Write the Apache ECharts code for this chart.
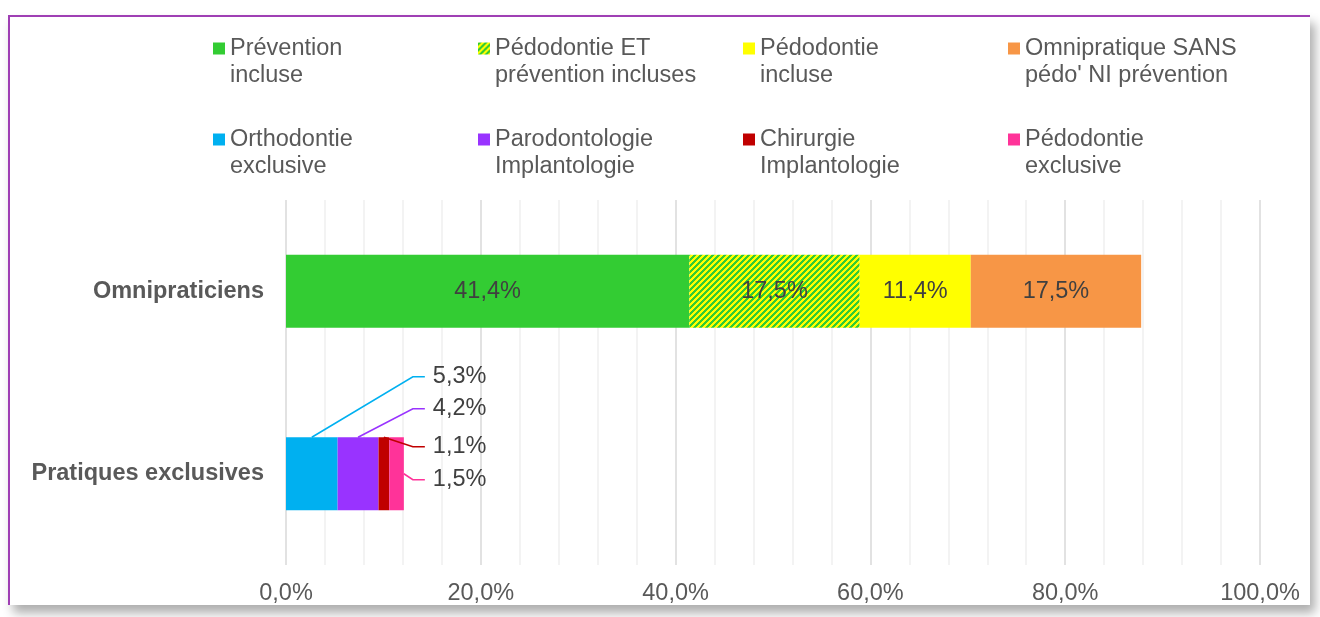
<!DOCTYPE html>
<html>
<head>
<meta charset="utf-8">
<script src="https://cdn.jsdelivr.net/npm/echarts@6/dist/echarts.min.js"></script>
<style>
  html, body { margin: 0; padding: 0; background: #ffffff; overflow: hidden; }
  #frame {
    position: absolute; left: 8px; top: 15px; width: 1300px; height: 588px;
    background: #ffffff;
    border-left: 2px solid #9F3FB4; border-top: 2px solid #9F3FB4;
    box-shadow: 5px 8px 10px rgba(0, 0, 0, 0.32);
  }
  #chart { position: absolute; left: 0; top: 0; width: 1320px; height: 617px; }
</style>
</head>
<body>
<div id="frame"></div>
<div id="chart"></div>
<script>
// Categories (top to bottom)
const categories = ['Omnipraticiens', 'Pratiques exclusives'];

// Series of the "Omnipraticiens" bar
const omniNames = [
  'Prévention incluse',
  'Pédodontie ET prévention incluses',
  'Pédodontie incluse',
  "Omnipratique SANS pédo' NI prévention"
];
const omniValues = [41.4, 17.5, 11.4, 17.5];

// Series of the "Pratiques exclusives" bar
const exclNames = [
  'Orthodontie exclusive',
  'Parodontologie Implantologie',
  'Chirurgie Implantologie',
  'Pédodontie exclusive'
];
const exclValues = [5.3, 4.2, 1.1, 1.5];

// Legend text, wrapped on two lines
const legendText = {
  'Prévention incluse': 'Prévention\nincluse',
  'Pédodontie ET prévention incluses': 'Pédodontie ET\nprévention incluses',
  'Pédodontie incluse': 'Pédodontie\nincluse',
  "Omnipratique SANS pédo' NI prévention": "Omnipratique SANS\npédo' NI prévention",
  'Orthodontie exclusive': 'Orthodontie\nexclusive',
  'Parodontologie Implantologie': 'Parodontologie\nImplantologie',
  'Chirurgie Implantologie': 'Chirurgie\nImplantologie',
  'Pédodontie exclusive': 'Pédodontie\nexclusive'
};

// Axis ticks (percent)
const xTicks = { min: 0, max: 100, step: 20 };

const FONT = 'Liberation Sans, Arial, sans-serif';
const FS = 23.5;

// Green / yellow diagonal hatch
function hatch() {
  const c = document.createElement('canvas');
  c.width = 6; c.height = 6;
  const ctx = c.getContext('2d');
  for (let x = 0; x < 6; x++) {
    for (let y = 0; y < 6; y++) {
      ctx.fillStyle = ((x + y) % 6) < 3 ? '#33CC33' : '#FFFF00';
      ctx.fillRect(x, y, 1, 1);
    }
  }
  return { image: c, repeat: 'repeat' };
}

const omniColors = ['#33CC33', hatch(), '#FFFF00', '#F79646'];
const exclColors = ['#00B0F0', '#9933FF', '#C00000', '#FF3399'];
// vertical offsets of the outside labels from the bar centre
const exclLabelDy = [-97, -65, -27, 6];
const BAR_RATIO = 0.4;

const fmt = v => v.toFixed(1).replace('.', ',') + '%';

const chart = echarts.init(document.getElementById('chart'), null, { renderer: 'canvas' });

const exclTotal = exclValues.reduce((a, b) => a + b, 0);
// cumulative start of each exclusive segment
const exclStarts = exclValues.map((v, i) => exclValues.slice(0, i).reduce((a, b) => a + b, 0));

const series = [];
omniNames.forEach((name, i) => {
  series.push({
    name, type: 'bar', stack: 'total', barWidth: (BAR_RATIO * 100) + '%',
    itemStyle: { color: omniColors[i] },
    data: [omniValues[i], '-'],
    label: {
      show: true, position: 'inside', color: '#404040',
      fontFamily: FONT, fontSize: FS,
      formatter: p => fmt(p.value)
    },
    emphasis: { disabled: true }
  });
});
exclNames.forEach((name, i) => {
  series.push({
    name, type: 'bar', stack: 'total', barWidth: (BAR_RATIO * 100) + '%',
    itemStyle: { color: exclColors[i] },
    data: ['-', exclValues[i]],
    label: {
      show: true, position: 'right', color: '#404040',
      fontFamily: FONT, fontSize: FS,
      formatter: p => fmt(p.value)
    },
    labelLayout: params => {
      const r = params.rect;
      const endX = chart.convertToPixel({ xAxisIndex: 0 }, exclTotal);
      return {
        x: endX + 29, y: r.y + r.height / 2 + exclLabelDy[i],
        align: 'left', verticalAlign: 'middle'
      };
    },
    emphasis: { disabled: true }
  });
});

// Leader lines from the exclusive segments to their outside labels
series.push({
  type: 'custom', silent: true, z: 3,
  encode: { x: [0, 1], y: 2 },
  data: exclValues.map((v, i) => [exclStarts[i], exclStarts[i] + v, 1, i]),
  renderItem: (params, api) => {
    const i = api.value(3);
    const left = api.coord([api.value(0), api.value(2)]);
    const right = api.coord([api.value(1), api.value(2)]);
    const endX = api.coord([exclTotal, api.value(2)])[0];
    const cy = left[1];
    const h = api.size([0, 1])[1] * BAR_RATIO;
    const lx = endX + 29;
    const ly = cy + exclLabelDy[i];
    const start = i === exclValues.length - 1
      ? [right[0], cy]
      : [(left[0] + right[0]) / 2, cy - h / 2];
    return {
      type: 'polyline',
      shape: { points: [start, [lx - 20, ly], [lx - 8, ly]] },
      style: { stroke: exclColors[i], lineWidth: 1.6, fill: null }
    };
  }
});

chart.setOption({
  animation: false,
  backgroundColor: 'transparent',
  textStyle: { fontFamily: FONT },
  legend: {
    left: 213, top: 8, width: 1070, padding: 0,
    itemWidth: 12, itemHeight: 12, itemGap: 10,
    icon: 'rect',
    selectedMode: false,
    data: omniNames.concat(exclNames),
    // leading empty line keeps the marker level with the first text line
    formatter: n => '\n' + legendText[n],
    textStyle: {
      fontFamily: FONT, fontSize: FS, color: '#595959',
      lineHeight: 27, width: 238
    }
  },
  grid: { left: 286, right: 60, top: 200, bottom: 52, containLabel: false },
  xAxis: {
    type: 'value', min: xTicks.min, max: xTicks.max, interval: xTicks.step,
    axisLine: { show: false }, axisTick: { show: false },
    axisLabel: {
      formatter: v => fmt(v), color: '#595959',
      fontFamily: FONT, fontSize: FS, margin: 17
    },
    splitLine: { show: true, lineStyle: { color: '#D9D9D9', width: 1.5 } },
    minorTick: { show: false, splitNumber: 5 },
    minorSplitLine: { show: true, lineStyle: { color: '#EFEFEF', width: 1.5 } }
  },
  yAxis: {
    type: 'category', data: categories, inverse: true,
    axisLine: { show: false }, axisTick: { show: false },
    axisLabel: {
      color: '#595959', fontWeight: 'bold',
      fontFamily: FONT, fontSize: FS, margin: 22
    },
    splitLine: { show: false }
  },
  series
});
</script>
</body>
</html>
